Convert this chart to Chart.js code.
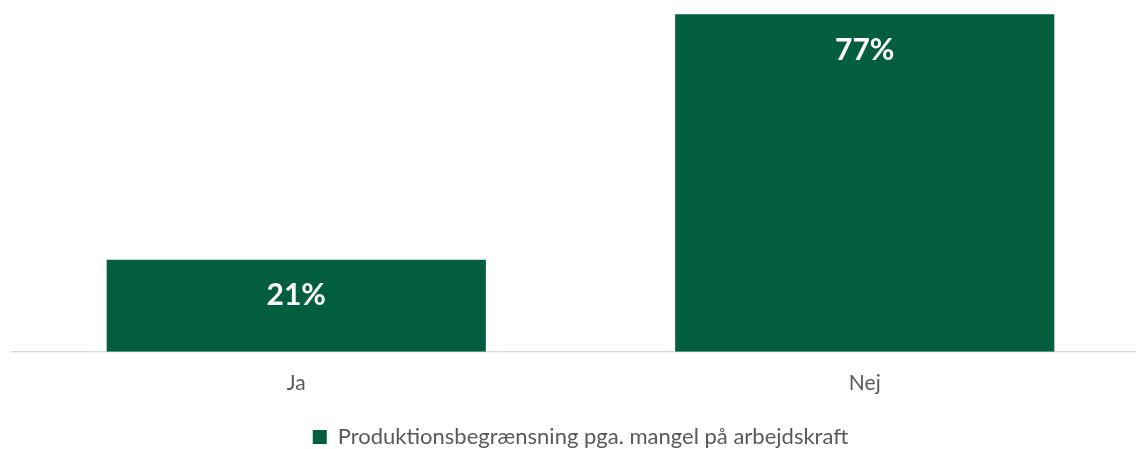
<!DOCTYPE html>
<html>
<head>
<meta charset="utf-8">
<script src="https://cdn.jsdelivr.net/npm/chart.js@4"></script>
<style>
    html, body { margin: 0; padding: 0; background: #ffffff; overflow: hidden; }
    #wrap { width: 1150px; height: 458px; }
</style>
</head>
<body>
<div id="wrap"><canvas id="barChart"></canvas></div>
<script>
/* ==========================================
   Data
========================================== */

const categories = ["Ja", "Nej"];

const seriesName = "Produktionsbegrænsning pga. mangel på arbejdskraft";

const seriesValues = [21, 77];

const valueLabels = ["21%", "77%"];

/* ==========================================
   Labels inside the bars
========================================== */

const barLabels = {
    id: "barLabels",
    afterDatasetsDraw(chart) {
        const ctx = chart.ctx;
        const meta = chart.getDatasetMeta(0);
        ctx.save();
        ctx.fillStyle = "#ffffff";
        ctx.font = "bold 30px Lato, 'Open Sans', sans-serif";
        ctx.textAlign = "center";
        ctx.textBaseline = "middle";
        meta.data.forEach((bar, i) => {
            ctx.fillText(valueLabels[i], bar.x, bar.y + 36);
        });
        ctx.restore();
    }
};

const chartCanvas = document.getElementById("barChart");

if (chartCanvas) {

    new Chart(chartCanvas.getContext("2d"), {

        type: "bar",

        data: {
            labels: categories,
            datasets: [{
                label: seriesName,
                data: seriesValues,
                backgroundColor: "#025E3C",
                borderWidth: 0,
                categoryPercentage: 1,
                barPercentage: 0.667
            }]
        },

        options: {

            responsive: true,
            maintainAspectRatio: false,
            animation: false,
            devicePixelRatio: 1,

            layout: {
                padding: { top: 1, left: 12, right: 1, bottom: 0 }
            },

            plugins: {
                legend: {
                    position: "bottom",
                    labels: {
                        boxWidth: 14,
                        boxHeight: 14,
                        padding: 11,
                        color: "#595959",
                        font: { family: "Lato, 'Open Sans', sans-serif", size: 22 }
                    }
                },
                tooltip: { enabled: false }
            },

            scales: {
                x: {
                    grid: { display: false, drawTicks: false },
                    border: { display: true, color: "#D9D9D9", width: 1.5 },
                    ticks: {
                        padding: 19,
                        color: "#595959",
                        font: { family: "Lato, 'Open Sans', sans-serif", size: 21 }
                    }
                },
                y: {
                    display: false,
                    min: 0,
                    max: 80
                }
            }
        },

        plugins: [barLabels]

    });

}
</script>
</body>
</html>
